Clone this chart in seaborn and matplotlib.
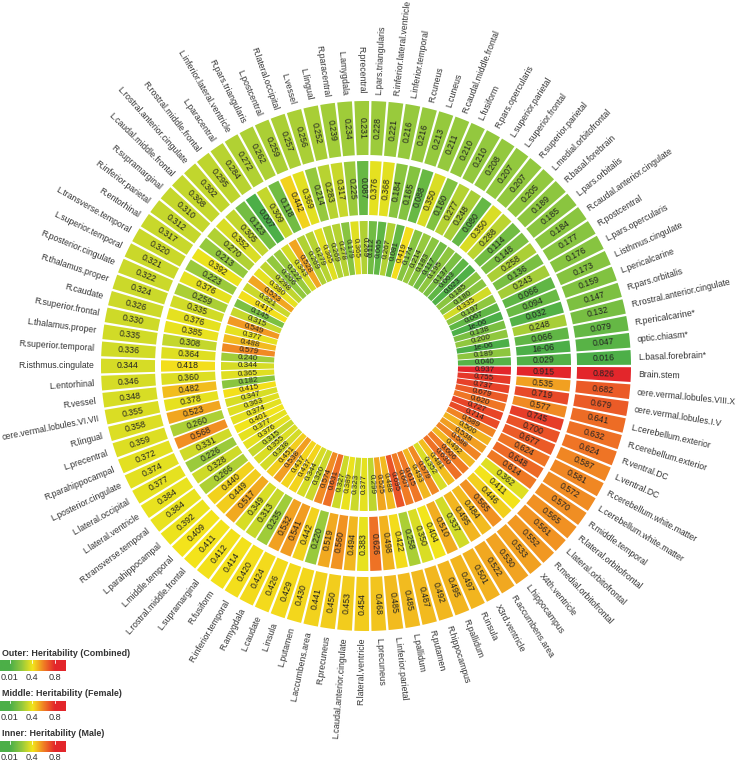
import numpy as np
import matplotlib
matplotlib.use("Agg")
import matplotlib.pyplot as plt
import seaborn as sns

sns.set_theme(style="white")
plt.rcParams['font.family'] = ['Liberation Sans', 'DejaVu Sans']

# regions in clockwise order, starting just below 3 o'clock
regions = [
    "Brain.stem", "cere.vermal.lobules.VIII.X", "cere.vermal.lobules.I.V", "L.cerebellum.exterior",
    "R.cerebellum.exterior", "R.ventral.DC", "L.ventral.DC", "R.cerebellum.white.matter",
    "L.cerebellum.white.matter", "R.middle.temporal", "R.lateral.orbitofrontal", "L.lateral.orbitofrontal",
    "R.medial.orbitofrontal", "X4th.ventricle", "L.hippocampus", "R.accumbens.area", "X3rd.ventricle",
    "R.insula", "R.pallidum", "R.hippocampus", "R.putamen", "L.pallidum", "L.inferior.parietal",
    "L.precuneus", "R.lateral.ventricle", "L.caudal.anterior.cingulate", "R.precuneus", "L.accumbens.area",
    "L.putamen", "L.insula", "L.caudate", "R.amygdala", "R.inferior.temporal", "R.fusiform",
    "L.supramarginal", "L.rostral.middle.frontal", "L.middle.temporal", "L.parahippocampal",
    "R.transverse.temporal", "L.lateral.ventricle", "L.lateral.occipital", "L.posterior.cingulate",
    "R.parahippocampal", "L.precentral", "R.lingual", "cere.vermal.lobules.VI.VII", "R.vessel",
    "L.entorhinal", "R.isthmus.cingulate", "R.superior.temporal", "L.thalamus.proper", "R.superior.frontal",
    "R.caudate", "R.thalamus.proper", "R.posterior.cingulate", "L.superior.temporal", "L.transverse.temporal",
    "R.entorhinal", "R.inferior.parietal", "R.supramarginal", "L.caudal.middle.frontal",
    "L.rostral.anterior.cingulate", "R.rostral.middle.frontal", "L.paracentral", "L.inferior.lateral.ventricle",
    "R.pars.triangularis", "L.postcentral", "R.lateral.occipital", "L.vessel", "L.lingual", "R.paracentral",
    "L.amygdala", "R.precentral", "L.pars.triangularis", "R.inferior.lateral.ventricle", "L.inferior.temporal",
    "R.cuneus", "L.cuneus", "R.caudal.middle.frontal", "L.fusiform", "R.pars.opercularis",
    "L.superior.parietal", "L.superior.frontal", "R.superior.parietal", "L.medial.orbitofrontal",
    "R.basal.forebrain", "L.pars.orbitalis", "R.caudal.anterior.cingulate", "R.postcentral",
    "L.pars.opercularis", "L.isthmus.cingulate", "L.pericalcarine", "R.pars.orbitalis",
    "R.rostral.anterior.cingulate", "R.pericalcarine*", "optic.chiasm*", "L.basal.forebrain*",
]

# outer ring: heritability, combined
combined = [
    0.826, 0.682, 0.679, 0.641, 0.632, 0.624, 0.587, 0.581, 0.572, 0.570,
    0.565, 0.561, 0.552, 0.533, 0.530, 0.522, 0.501, 0.497, 0.495, 0.492,
    0.487, 0.485, 0.485, 0.468, 0.454, 0.453, 0.450, 0.441, 0.430, 0.429,
    0.426, 0.424, 0.420, 0.414, 0.412, 0.411, 0.409, 0.392, 0.384, 0.384,
    0.377, 0.374, 0.372, 0.359, 0.358, 0.355, 0.348, 0.346, 0.344, 0.336,
    0.335, 0.330, 0.326, 0.324, 0.322, 0.321, 0.320, 0.317, 0.312, 0.310,
    0.308, 0.302, 0.295, 0.284, 0.272, 0.262, 0.259, 0.257, 0.256, 0.252,
    0.239, 0.234, 0.231, 0.228, 0.221, 0.216, 0.216, 0.213, 0.211, 0.210,
    0.210, 0.208, 0.207, 0.207, 0.205, 0.189, 0.185, 0.184, 0.177, 0.176,
    0.173, 0.159, 0.147, 0.132, 0.079, 0.047, 0.016,
]

# middle ring: heritability, female
female = [
    0.915, 0.535, 0.719, 0.577, 0.745, 0.700, 0.677, 0.624, 0.648, 0.614,
    0.362, 0.411, 0.446, 0.565, 0.484, 0.495, 0.337, 0.510, 0.404, 0.350,
    0.258, 0.422, 0.498, 0.626, 0.383, 0.494, 0.560, 0.519, 0.220, 0.442,
    0.541, 0.532, 0.235, 0.313, 0.349, 0.517, 0.449, 0.440, 0.266, 0.328,
    0.226, 0.331, 0.568, 0.260, 0.523, 0.378, 0.482, 0.360, 0.418, 0.364,
    0.308, 0.385, 0.376, 0.335, 0.259, 0.376, 0.223, 0.392, 0.213, 0.270,
    0.352, 0.305, 0.123, 0.007, 0.309, 0.118, 0.442, 0.369, 0.214, 0.283,
    0.317, 0.225, 0.087, 0.376, 0.368, 0.184, 0.165, 0.088, 0.350, 0.160,
    0.277, 0.248, 0.080, 0.350, 0.288, 0.114, 0.148, 0.258, 0.136, 0.243,
    0.066, 0.094, 0.032, 0.248, 0.066, 1e-06, 0.029,
]

# inner ring: heritability, male
male = [
    0.937, 0.755, 0.737, 0.679, 0.620, 0.727, 0.714, 0.589, 0.500, 0.538,
    0.588, 0.492, 0.606, 0.630, 0.481, 0.352, 0.579, 0.493, 0.615, 0.607,
    0.695, 0.488, 0.525, 0.299, 0.377, 0.323, 0.389, 0.327, 0.631, 0.574,
    0.320, 0.344, 0.437, 0.437, 0.538, 0.451, 0.338, 0.355, 0.315, 0.376,
    0.377, 0.401, 0.374, 0.363, 0.347, 0.415, 0.182, 0.365, 0.344, 0.240,
    0.579, 0.488, 0.377, 0.549, 0.315, 0.145, 0.417, 0.321, 0.523, 0.380,
    0.298, 0.206, 0.222, 0.343, 0.528, 0.269, 0.279, 0.365, 0.269, 0.278,
    0.179, 0.365, 0.269, 0.112, 0.065, 0.267, 0.081, 0.419, 0.174, 0.214,
    0.183, 0.117, 0.195, 0.137, 0.063, 0.023, 0.185, 0.180, 0.335, 0.197,
    0.067, 1e-06, 0.138, 0.200, 1e-06, 0.189, 0.040,
]

legend_titles = ["Outer: Heritability (Combined)", "Middle: Heritability (Female)", "Inner: Heritability (Male)"]
legend_ticks = [0.01, 0.4, 0.8]

cmap = sns.blend_palette(["#4caf48", "#93c83e", "#f3e51b", "#f07d24", "#e3262b"], as_cmap=True)
norm = plt.Normalize(0.01, 0.8)

W, H = 742, 763
fig = plt.figure(figsize=(W / 100, H / 100), dpi=100)

# polar axes whose radial unit is one pixel
cx, cy, R = 366, 366, 300
ax = fig.add_axes([(cx - R) / W, (H - cy - R) / H, 2 * R / W, 2 * R / H], projection="polar")
ax.set_theta_zero_location("E")
ax.set_theta_direction(-1)
ax.set_ylim(0, R)
ax.set_axis_off()

n = len(regions)
step = 2 * np.pi / n
theta = (np.arange(n) + 0.5) * step


def fmt(v):
    return "%.3f" % v if v >= 0.001 else "%g" % v


def facing(t):
    a = (-np.degrees(t) + 180) % 360 - 180
    if -90 < a <= 90:
        return a, "left"
    return a + 180, "right"


rings = [(male, 92, 145, 5.8), (female, 151, 205, 6.3), (combined, 211, 265, 6.3)]
for vals, r0, r1, fs in rings:
    vals = np.array(vals)
    ax.bar(theta, r1 - r0, width=step * 0.86, bottom=r0, color=cmap(norm(vals)), linewidth=0)
    for t, v in zip(theta, vals):
        rot, _ = facing(t)
        ax.text(t, (r0 + r1) / 2, fmt(v), rotation=rot, rotation_mode="anchor",
                ha="center", va="center", fontsize=fs, color="#222222")

for t, name in zip(theta, regions):
    rot, ha = facing(t)
    ax.text(t, 272, name, rotation=rot, rotation_mode="anchor", ha=ha, va="center",
            fontsize=6.2, color="#333333")

# legends (bottom left)
grad = np.linspace(-0.17, 0.99, 256).reshape(1, -1)
for k, title in enumerate(legend_titles):
    top = 660 + 40.5 * k
    fig.text(2 / W, 1 - (top - 7) / H, title, fontsize=6.4, fontweight="bold",
             color="#333333", va="center", ha="left")
    lax = fig.add_axes([0, 1 - (top + 11) / H, 66 / W, 11 / H])
    lax.imshow(grad, cmap=cmap, norm=norm, aspect="auto", extent=(0, 66, 0, 1))
    lax.set_xlim(0, 66)
    lax.set_axis_off()
    for x, v in zip([10, 32, 55], legend_ticks):
        lax.plot([x, x], [0.75, 1], color="white", lw=0.6)
        fig.text(x / W, 1 - (top + 17) / H, "%g" % v, fontsize=6.6, color="#333333",
                 ha="center", va="center")

fig.savefig("out.png", dpi=100)
